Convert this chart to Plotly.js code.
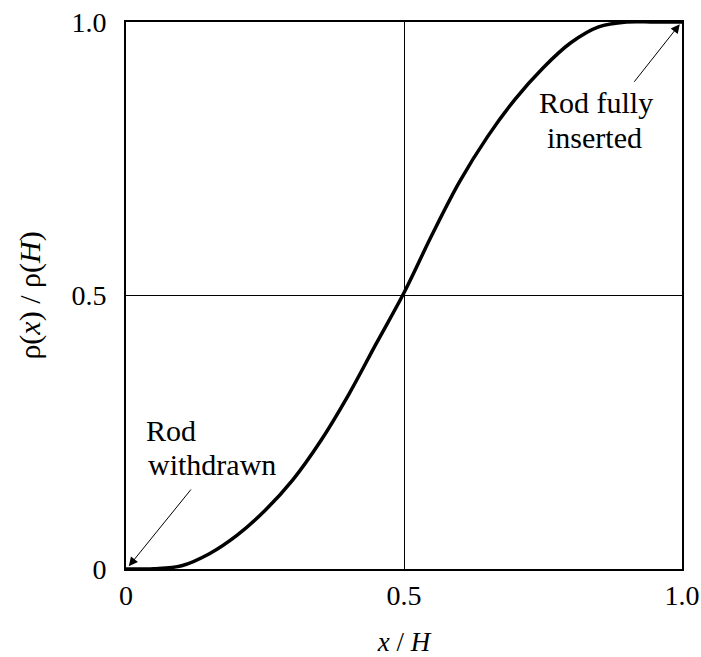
<!DOCTYPE html>
<html>
<head>
<meta charset="utf-8">
<script src="https://cdn.plot.ly/plotly-3.0.1.min.js"></script>
<style>html,body{margin:0;padding:0;background:#fff;}</style>
</head>
<body>
<div id="chart" style="width:701px;height:657px;"></div>
<script>
// Relative rod position x/H
const xPos = [0, 0.05, 0.10, 0.15, 0.20, 0.25, 0.30, 0.35, 0.40, 0.45, 0.50,
              0.55, 0.60, 0.65, 0.70, 0.75, 0.80, 0.85, 0.90, 0.95, 1.00];
// Relative rod worth rho(x)/rho(H)
const worth = [0, 0.0005, 0.006, 0.028, 0.062, 0.107, 0.163, 0.234, 0.318, 0.412, 0.505,
               0.610, 0.708, 0.790, 0.859, 0.916, 0.962, 0.991, 1.0, 1.0, 1.0];
const tickVals = [0, 0.5, 1];
const xTickText = ['0', '0.5', '1.0'];
const yTickText = ['0', '0.5', '1.0'];

const serif = 'Liberation Serif, Times New Roman, serif';

const trace = {
  x: xPos, y: worth, type: 'scatter', mode: 'lines',
  line: {color: '#000', width: 3.5, shape: 'spline', smoothing: 1},
  hoverinfo: 'skip', showlegend: false
};

const annFont = {family: serif, size: 30, color: '#000'};

const layout = {
  width: 701, height: 657,
  margin: {l: 126, r: 19, t: 22, b: 88},
  paper_bgcolor: '#fff', plot_bgcolor: '#fff',
  font: {family: serif, color: '#000', size: 28},
  xaxis: {
    range: [0, 1], tickvals: tickVals, ticktext: xTickText,
    showgrid: true, gridcolor: '#000', gridwidth: 1,
    zeroline: false, showline: true, linecolor: '#000', linewidth: 2, mirror: true,
    ticks: '', ticklabelstandoff: 0,
    tickfont: {family: serif, size: 28, color: '#000'},
    title: {text: '<i>x</i> / <i>H</i>', font: {family: serif, size: 27, color: '#000'}, standoff: 24}
  },
  yaxis: {
    range: [0, 1], tickvals: tickVals, ticktext: yTickText,
    showgrid: true, gridcolor: '#000', gridwidth: 1,
    zeroline: false, showline: true, linecolor: '#000', linewidth: 2, mirror: true,
    ticks: '', ticklabelstandoff: 12,
    tickfont: {family: serif, size: 28, color: '#000'},
    title: {text: 'ρ(<i>x</i>) / ρ(<i>H</i>)', font: {family: serif, size: 30, color: '#000'}, standoff: 22}
  },
  annotations: [
    {x: 0.005, y: 0.005, ax: 0.119, ay: 0.148, xref: 'x', yref: 'y', axref: 'x', ayref: 'y',
     text: '', showarrow: true, arrowhead: 2, arrowsize: 1.8, arrowwidth: 1, arrowcolor: '#000'},
    {x: 0.034, y: 0.254, xref: 'x', yref: 'y', xanchor: 'left', yanchor: 'middle', borderpad: 0,
     text: 'Rod', showarrow: false, font: annFont},
    {x: 0.037, y: 0.191, xref: 'x', yref: 'y', xanchor: 'left', yanchor: 'middle', borderpad: 0,
     text: 'withdrawn', showarrow: false, font: annFont},
    {x: 0.996, y: 0.996, ax: 0.912, ay: 0.888, xref: 'x', yref: 'y', axref: 'x', ayref: 'y',
     text: '', showarrow: true, arrowhead: 2, arrowsize: 1.8, arrowwidth: 1, arrowcolor: '#000'},
    {x: 0.845, y: 0.853, xref: 'x', yref: 'y', xanchor: 'center', yanchor: 'middle', borderpad: 0,
     text: 'Rod fully', showarrow: false, font: annFont},
    {x: 0.842, y: 0.789, xref: 'x', yref: 'y', xanchor: 'center', yanchor: 'middle', borderpad: 0,
     text: 'inserted', showarrow: false, font: annFont}
  ]
};

Plotly.newPlot('chart', [trace], layout, {displayModeBar: false, staticPlot: true});
</script>
</body>
</html>
